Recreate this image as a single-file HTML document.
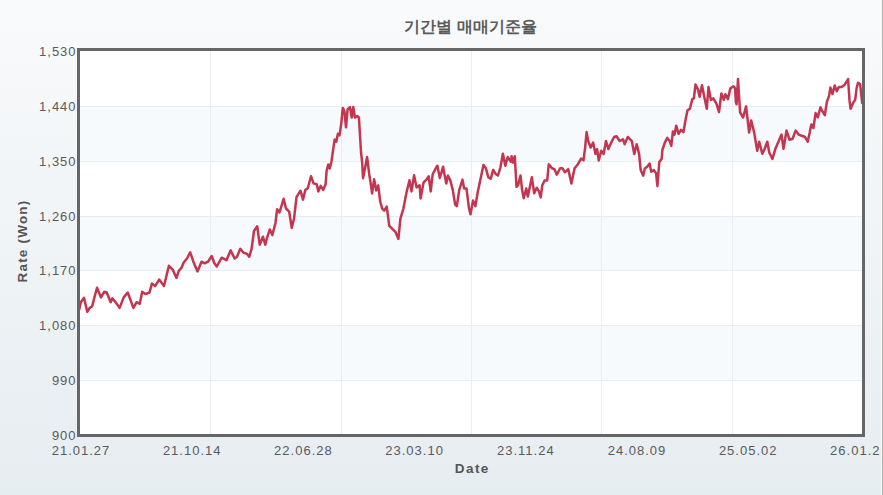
<!DOCTYPE html>
<html><head><meta charset="utf-8">
<style>
html,body{margin:0;padding:0;}
body{width:883px;height:495px;overflow:hidden;background:#eef2f5;}
svg{display:block;font-family:"Liberation Sans",sans-serif;}
.lab{font-size:13px;fill:#5a5a5a;letter-spacing:1.0px;}
.ttl{font-size:16px;font-weight:bold;fill:#5a5a5a;}
.ax{font-size:13.5px;font-weight:bold;fill:#555555;letter-spacing:1.4px;}
</style></head><body>
<svg width="883" height="495" viewBox="0 0 883 495">
<defs>
<linearGradient id="bg" x1="0" y1="0" x2="0" y2="1">
<stop offset="0" stop-color="#f9fafb"/>
<stop offset="1" stop-color="#e6edf1"/>
</linearGradient>
<clipPath id="cp"><rect x="80" y="51" width="782" height="383"/></clipPath>
</defs>
<rect x="0" y="0" width="883" height="495" fill="url(#bg)"/>
<rect x="80" y="51" width="782" height="383" fill="#ffffff"/>
<rect x="80" y="106" width="782" height="55" fill="#f7fafc"/><rect x="80" y="216" width="782" height="54" fill="#f7fafc"/><rect x="80" y="325" width="782" height="55" fill="#f7fafc"/>
<rect x="80" y="106" width="782" height="1" fill="#e7edf1"/><rect x="80" y="161" width="782" height="1" fill="#e7edf1"/><rect x="80" y="216" width="782" height="1" fill="#e7edf1"/><rect x="80" y="270" width="782" height="1" fill="#e7edf1"/><rect x="80" y="325" width="782" height="1" fill="#e7edf1"/><rect x="80" y="380" width="782" height="1" fill="#e7edf1"/><rect x="210" y="51" width="1" height="383" fill="#eaeef2"/><rect x="341" y="51" width="1" height="383" fill="#eaeef2"/><rect x="471" y="51" width="1" height="383" fill="#eaeef2"/><rect x="601" y="51" width="1" height="383" fill="#eaeef2"/><rect x="732" y="51" width="1" height="383" fill="#eaeef2"/>
<path d="M79.2 309.5 L80.8 302.2 L84.0 297.8 L87.3 311.9 L89.7 307.9 L92.2 306.2 L93.8 299.8 L97.0 287.7 L101.0 297.4 L104.3 291.7 L106.7 292.5 L110.7 302.2 L112.3 298.2 L115.6 302.2 L119.6 307.9 L123.7 297.4 L127.7 292.5 L133.4 307.9 L136.6 302.2 L139.8 303.8 L142.2 291.7 L145.5 294.1 L149.5 292.5 L151.9 283.6 L155.2 286.0 L159.2 279.6 L164.0 286.0 L168.9 265.8 L172.9 269.9 L176.5 277.9 L178.9 270.6 L181.3 268.2 L183.7 262.5 L187.0 258.5 L190.2 252.3 L193.4 261.7 L197.5 271.4 L201.5 261.7 L204.7 263.3 L208.0 261.7 L211.7 256.0 L214.4 263.3 L216.8 266.5 L221.7 257.7 L226.5 260.1 L230.6 250.4 L234.6 258.5 L237.0 256.8 L240.3 248.8 L243.5 252.8 L246.7 253.6 L249.2 256.8 L251.6 248.8 L254.0 231.0 L257.2 226.2 L259.7 244.7 L262.9 236.7 L265.3 244.7 L266.6 239.2 L269.8 229.5 L272.3 235.1 L275.5 223.0 L277.1 209.3 L279.5 212.5 L283.6 198.8 L286.0 208.5 L289.2 211.7 L291.7 227.9 L294.1 218.2 L296.5 197.2 L300.5 190.7 L303.0 199.6 L305.4 189.9 L307.8 188.3 L311.0 176.2 L313.5 183.4 L316.7 184.2 L318.3 191.5 L320.7 185.8 L323.2 189.9 L325.6 184.2 L326.6 170.9 L328.2 164.5 L329.8 168.5 L331.5 161.2 L333.1 149.9 L334.7 139.4 L336.3 141.8 L337.9 133.8 L339.5 135.4 L341.2 124.1 L342.8 107.9 L344.4 111.2 L346.0 127.3 L347.6 109.5 L350.0 107.1 L351.7 117.6 L353.3 107.1 L354.9 117.6 L357.3 116.0 L358.9 117.6 L360.5 143.5 L361.0 152.0 L362.2 162.9 L363.0 178.3 L365.0 168.2 L367.1 157.1 L369.1 173.2 L371.1 186.4 L372.1 193.4 L374.1 179.3 L376.2 190.4 L378.2 185.4 L380.2 201.5 L382.2 208.6 L384.2 210.6 L386.7 206.6 L389.3 225.8 L392.3 228.8 L395.4 231.8 L398.4 238.9 L400.4 218.7 L403.4 208.6 L406.5 192.4 L409.5 180.3 L411.5 191.4 L414.1 175.3 L416.6 187.4 L419.6 185.4 L420.6 198.5 L423.6 182.3 L426.7 179.3 L428.7 176.3 L430.7 191.4 L432.7 174.2 L436.8 166.2 L437.4 165.8 L439.8 178.0 L441.5 172.3 L443.1 166.7 L444.7 175.5 L446.3 183.6 L447.9 175.5 L450.3 180.4 L452.8 190.1 L455.2 204.6 L456.8 206.2 L459.2 190.1 L462.5 179.6 L464.1 188.5 L466.5 188.5 L468.9 207.9 L470.5 214.3 L473.0 200.6 L475.4 206.2 L477.8 191.7 L480.2 180.4 L483.5 165.0 L485.9 168.3 L488.3 177.2 L490.7 178.8 L493.2 169.9 L495.6 173.9 L498.0 175.5 L500.4 167.5 L502.9 153.7 L505.3 165.8 L507.7 157.0 L510.9 161.8 L511.6 156.2 L513.2 162.6 L514.8 156.2 L516.5 186.8 L518.1 185.2 L520.5 175.5 L522.1 190.1 L523.7 198.2 L526.2 188.5 L527.8 196.5 L530.2 185.2 L531.8 177.2 L534.2 193.3 L536.7 187.7 L539.1 191.7 L540.7 197.4 L542.3 185.2 L544.7 180.4 L547.2 180.4 L548.8 164.2 L552.0 168.3 L554.4 169.1 L556.8 174.7 L560.1 168.3 L562.5 168.3 L564.9 172.3 L568.2 169.1 L571.4 183.6 L574.6 168.3 L577.9 164.2 L581.1 158.6 L583.5 160.2 L585.1 148.1 L586.6 132.1 L588.2 141.0 L590.7 147.5 L593.1 142.6 L595.5 153.9 L597.1 149.1 L598.7 160.4 L601.2 150.7 L603.6 153.9 L606.0 141.0 L608.4 149.1 L610.8 143.4 L614.1 137.0 L616.5 136.2 L619.7 141.0 L623.0 139.4 L624.6 144.2 L627.8 137.0 L630.2 139.4 L631.8 141.0 L634.3 153.9 L636.7 144.2 L639.1 153.9 L640.7 170.1 L643.2 175.7 L644.8 168.5 L647.2 166.8 L649.6 163.6 L651.2 171.7 L653.7 170.1 L656.1 173.3 L657.4 186.2 L659.3 162.0 L661.7 158.8 L662.4 150.0 L664.8 142.7 L667.3 137.9 L669.7 141.1 L671.3 145.9 L672.9 131.4 L674.5 134.6 L676.2 125.7 L678.6 133.8 L681.0 129.8 L683.4 132.2 L685.8 118.5 L687.5 110.4 L689.9 108.8 L692.3 99.1 L693.9 98.3 L695.5 84.5 L698.0 89.4 L699.6 96.7 L702.0 85.3 L704.4 97.5 L706.8 108.8 L708.5 87.0 L710.9 99.9 L713.3 98.3 L716.5 103.9 L719.0 112.0 L721.4 93.4 L723.8 99.9 L725.4 94.2 L727.9 99.1 L730.3 88.6 L733.5 86.2 L735.0 88.2 L735.9 102.3 L736.6 104.3 L738.0 79.1 L740.1 112.4 L743.1 117.5 L746.1 106.4 L749.1 132.6 L751.2 120.5 L754.2 132.6 L757.2 150.8 L759.2 141.7 L762.3 153.8 L764.3 149.8 L767.3 141.7 L769.3 152.8 L772.4 158.9 L775.4 148.8 L778.4 141.7 L781.5 134.6 L783.5 148.8 L786.5 130.6 L789.5 139.7 L792.6 138.7 L795.6 130.6 L798.6 134.6 L801.7 135.7 L804.7 136.7 L807.7 141.7 L809.7 132.6 L811.3 124.4 L813.4 128.0 L815.6 113.1 L817.7 117.3 L820.5 107.4 L822.6 111.7 L824.8 115.2 L826.9 101.8 L829.0 96.1 L830.4 87.6 L832.5 94.0 L834.7 85.5 L836.8 91.2 L838.9 86.9 L841.7 86.9 L844.6 84.8 L846.7 81.3 L848.1 79.1 L849.5 100.4 L850.6 108.8 L853.0 103.2 L855.2 99.7 L856.6 88.3 L858.0 82.7 L860.1 84.1 L862.2 103.2" fill="none" stroke="#c4354f" stroke-width="2.5" stroke-linejoin="round" stroke-linecap="round" clip-path="url(#cp)"/>
<rect x="78.5" y="49.5" width="785" height="386" fill="none" stroke="#666666" stroke-width="3"/>
<g class="lab"><text x="76.6" y="56.0" text-anchor="end">1,530</text><text x="76.6" y="110.8" text-anchor="end">1,440</text><text x="76.6" y="165.7" text-anchor="end">1,350</text><text x="76.6" y="220.5" text-anchor="end">1,260</text><text x="76.6" y="275.4" text-anchor="end">1,170</text><text x="76.6" y="330.2" text-anchor="end">1,080</text><text x="76.6" y="385.0" text-anchor="end">990</text><text x="76.6" y="439.9" text-anchor="end">900</text></g>
<g class="lab"><text x="81.0" y="455" text-anchor="middle">21.01.27</text><text x="192.2" y="455" text-anchor="middle">21.10.14</text><text x="303.4" y="455" text-anchor="middle">22.06.28</text><text x="414.6" y="455" text-anchor="middle">23.03.10</text><text x="525.8" y="455" text-anchor="middle">23.11.24</text><text x="637.0" y="455" text-anchor="middle">24.08.09</text><text x="748.2" y="455" text-anchor="middle">25.05.02</text><text x="859.4" y="455" text-anchor="middle">26.01.26</text></g>
<text class="ttl" x="470.5" y="32" text-anchor="middle">기간별 매매기준율</text>
<text class="ax" x="472.3" y="473" text-anchor="middle">Date</text>
<text class="ax" style="letter-spacing:1.2px" transform="translate(26.9,241) rotate(-90)" text-anchor="middle">Rate (Won)</text>
<rect x="881" y="0" width="1" height="495" fill="#fafbfc"/><rect x="882" y="0" width="1" height="495" fill="#b0b0b0"/>
</svg>
</body></html>
